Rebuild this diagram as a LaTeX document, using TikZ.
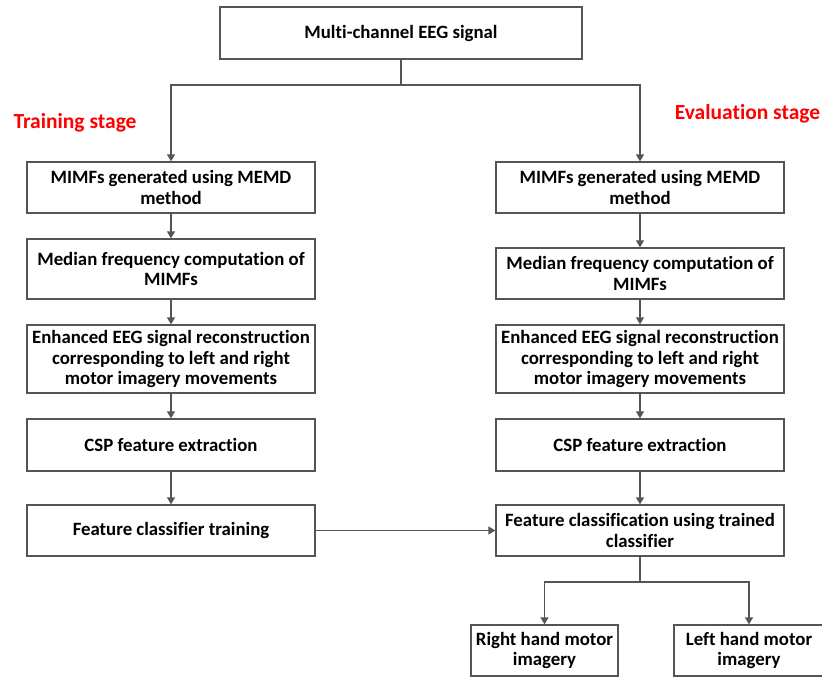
\documentclass[tikz,border=0pt]{standalone}
\usepackage{fontspec}
\setmainfont[Ligatures={NoCommon,NoDiscretionary,NoRare}]{Carlito}
\usetikzlibrary{arrows.meta}
\definecolor{linegray}{RGB}{85,85,85}
\definecolor{stagered}{RGB}{255,0,0}
\begin{document}
\begin{tikzpicture}[x=1pt,y=-1pt,
  box/.style={draw=linegray, line width=1.3pt, fill=white, rectangle, inner sep=0pt,
    align=center, font=\fontsize{18.8}{20.5}\selectfont\bfseries},
  colbox/.style={box, minimum width=288pt},
  conn/.style={draw=linegray, line width=1.3pt},
  arr/.style={conn, -{Triangle[length=7pt,width=8pt]}},
  stage/.style={text=stagered, font=\fontsize{21.5}{24}\selectfont\bfseries, inner sep=0pt}
]
\useasboundingbox (0,0) rectangle (822,677);

\node[box, minimum width=362pt, minimum height=52pt] (top) at (401,33) {Multi-channel EEG signal};

\node[stage] (train) at (75,123) {Training stage};
\node[stage] (eval) at (747.5,114) {Evaluation stage};

% left column
\node[colbox, minimum height=51pt] (L1) at (171,187.5) {MIMFs generated using MEMD\\method};
\node[colbox, minimum height=60pt] (L2) at (171,269) {Median frequency computation of\\MIMFs};
\node[colbox, minimum height=68pt] (L3) at (171,359) {Enhanced EEG signal reconstruction\\corresponding to left and right\\motor imagery movements};
\node[colbox, minimum height=52pt] (L4) at (171,445) {CSP feature extraction};
\node[colbox, minimum height=51pt] (L5) at (171,530.5) {Feature classifier training};

% right column
\node[colbox, minimum height=51pt] (R1) at (640,187.5) {MIMFs generated using MEMD\\method};
\node[colbox, minimum height=51pt] (R2) at (640,273.5) {Median frequency computation of\\MIMFs};
\node[colbox, minimum height=68pt] (R3) at (640,359) {Enhanced EEG signal reconstruction\\corresponding to left and right\\motor imagery movements};
\node[colbox, minimum height=52pt] (R4) at (640,445) {CSP feature extraction};
\node[colbox, minimum height=51pt] (R5) at (640,530.5) {Feature classification using trained\\classifier};

% outputs
\node[box, minimum width=147pt, minimum height=51pt] (B1) at (544.5,650.5) {Right hand motor\\imagery};
\node[box, minimum width=150pt, minimum height=51pt] (B2) at (749,650.5) {Left hand motor\\imagery};

% connectors
\coordinate (s1) at (401,85);
\draw[conn] (top.south) -- (s1);
\draw[arr] (s1) -| (L1.north);
\draw[arr] (s1) -| (R1.north);

\draw[arr] (L1) -- (L2);
\draw[arr] (L2) -- (L3);
\draw[arr] (L3) -- (L4);
\draw[arr] (L4) -- (L5);

\draw[arr] (R1) -- (R2);
\draw[arr] (R2) -- (R3);
\draw[arr] (R3) -- (R4);
\draw[arr] (R4) -- (R5);

\draw[arr] (L5) -- (R5);

\coordinate (s2) at (640,582);
\draw[conn] (R5.south) -- (s2);
\draw[arr] (s2) -| (B1.north);
\draw[arr] (s2) -| (B2.north);
\end{tikzpicture}
\end{document}
